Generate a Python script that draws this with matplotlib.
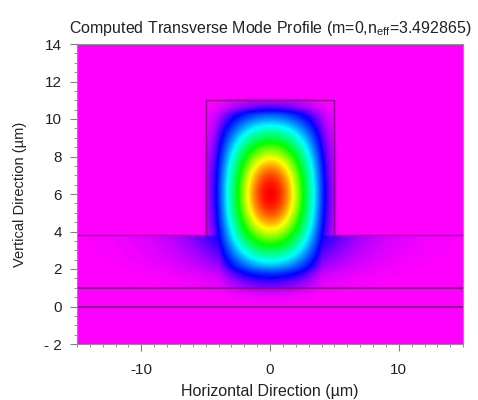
import numpy as np
import matplotlib
matplotlib.use("Agg")
import matplotlib.pyplot as plt
from matplotlib.colors import LinearSegmentedColormap

plt.rcParams['font.family'] = ['Liberation Sans', 'DejaVu Sans']
plt.rcParams['axes.unicode_minus'] = False

# structure (um)
ridge_x = [-5.0, 5.0]
ridge_top = 11.0
slab_top = 3.8
layer_lines = [1.0, 0.0]

# mode parameters
mode_center = [0.0, 6.0]
shape_power = 1.4
width_x = 9.9
width_up = 10.8
width_down = 10.6
x_knee, up_knee, down_knee = 4.0, 4.3, 3.9
ridge_tail = 0.7
slab_tail = 3.0
top_tail = 0.45
low_tail = 0.75
air_tail = 0.1
clad_tail = 0.3
core_bottom = 1.0

# colour levels: magenta, blue, cyan, green, yellow, red
levels = [0.0, 0.13, 0.36, 0.6, 0.8, 1.0]
colors = ["#ff00ff", "#0000ff", "#00ffff", "#00ff00", "#ffff00", "#ff0000"]

x_ticks = [-10, 0, 10]
y_ticks = [-2, 0, 2, 4, 6, 8, 10, 12, 14]
y_labels = ["- 2", "0", "2", "4", "6", "8", "10", "12", "14"]


def cos_tail(d, width, knee, tail):
    # cosine-like core that hands over to an exponential tail past the knee
    d = np.abs(d)
    core = np.cos(np.pi * np.minimum(d, knee) / width) ** shape_power
    v0 = np.cos(np.pi * knee / width) ** shape_power
    return np.where(d <= knee, core, v0 * np.exp(-(d - knee) / tail))


x = np.linspace(-15, 15, 601)
y = np.linspace(-2, 14, 321)
X, Y = np.meshgrid(x, y)

ax_ = np.abs(X - mode_center[0])
ridge_lat = cos_tail(ax_, width_x, x_knee, ridge_tail)
wall_val = cos_tail(np.array(ridge_x[1]), width_x, x_knee, ridge_tail)
ridge_lat = np.where(ax_ > ridge_x[1], wall_val * np.exp(-(ax_ - ridge_x[1]) / air_tail), ridge_lat)
slab_lat = cos_tail(ax_, width_x, x_knee, slab_tail)
lateral = np.where(Y >= slab_top, ridge_lat, slab_lat)

dy = Y - mode_center[1]
vert = np.where(dy >= 0, cos_tail(dy, width_up, up_knee, top_tail),
                cos_tail(dy, width_down, down_knee, low_tail))
top_val = cos_tail(np.array(ridge_top - mode_center[1]), width_up, up_knee, top_tail)
bot_val = cos_tail(np.array(core_bottom - mode_center[1]), width_down, down_knee, low_tail)
vert = np.where(Y > ridge_top, top_val * np.exp(-(Y - ridge_top) / air_tail), vert)
vert = np.where(Y < core_bottom, bot_val * np.exp(-(core_bottom - Y) / clad_tail), vert)

field = lateral * vert
field = field / field.max()

cmap = LinearSegmentedColormap.from_list("mode", list(zip(levels, colors)))

fig = plt.figure(figsize=(4.78, 4.0), dpi=100)
ax = fig.add_axes([0.161, 0.14, 0.808, 0.75])

ax.imshow(field, extent=[x[0], x[-1], y[0], y[-1]], origin="lower",
          aspect="auto", cmap=cmap, vmin=0, vmax=1, interpolation="bilinear")

line_col = "#900090"
ax.plot([ridge_x[0], ridge_x[0], ridge_x[1], ridge_x[1]],
        [slab_top, ridge_top, ridge_top, slab_top], color=line_col, lw=1.0)
ax.plot([-15, ridge_x[0]], [slab_top, slab_top], color=line_col, lw=1.0)
ax.plot([ridge_x[1], 15], [slab_top, slab_top], color=line_col, lw=1.0)
for yl in layer_lines:
    ax.axhline(yl, color=line_col, lw=1.5)

ax.set_xlim(-15, 15)
ax.set_ylim(-2, 14)
ax.set_xticks(x_ticks)
ax.set_xticks(np.arange(-15, 16, 1), minor=True)
ax.set_yticks(y_ticks)
ax.set_yticklabels(y_labels)
ax.set_yticks(np.arange(-2, 14.01, 0.5), minor=True)
ax.tick_params(which="both", direction="out", colors="#808080", labelcolor="#222222",
               labelsize=11)
ax.tick_params(axis="x", which="major", length=5, pad=9)
ax.tick_params(axis="y", which="major", length=5, pad=6)
ax.tick_params(which="minor", length=2.5)
for s in ax.spines.values():
    s.set_color("#909090")

ax.set_xlabel("Horizontal Direction (\u00b5m)", fontsize=11.5, color="#222222", labelpad=5)
ax.set_ylabel("Vertical Direction (\u00b5m)", fontsize=10.5, color="#222222", labelpad=12)
ax.set_title("Computed Transverse Mode Profile (m=0,n$_{\\mathregular{eff}}$=3.492865)",
             fontsize=11.5, color="#222222", pad=8)

fig.savefig("out.png", dpi=100)
